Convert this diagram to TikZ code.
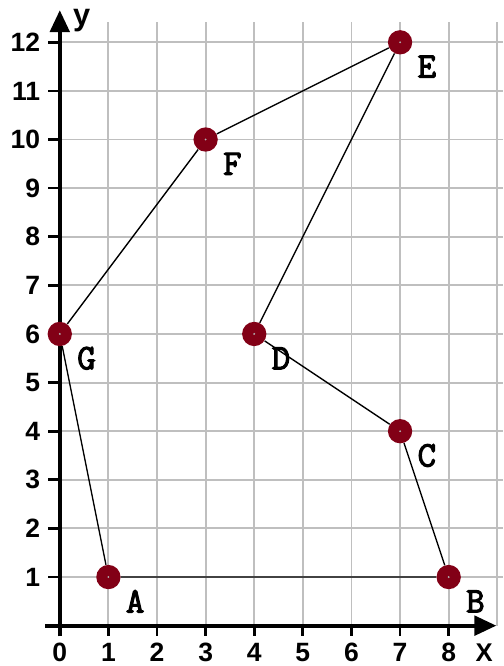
\documentclass[tikz,border=0pt]{standalone}
\usepackage{fontspec}
\setsansfont{Liberation Sans}
\newfontfamily\ptfont[FakeBold=3]{Latin Modern Mono}
\usetikzlibrary{arrows.meta,positioning,calc}
\definecolor{ptred}{RGB}{130,0,22}
\tikzset{
  gridln/.style={gray!50, line width=1.1pt},
  axisln/.style={line width=2.2pt, -{Triangle[length=4.5mm,width=4mm]}},
  tickln/.style={line width=1.6pt},
  side/.style={black, line width=0.8pt},
  pt/.style={circle, fill=ptred, minimum size=5mm, inner sep=0pt,
    path picture={\fill[gray!60] (path picture bounding box.center) circle (0.6pt);}},
  ptlbl/.style={font=\ptfont\fontsize{21}{21}\selectfont, inner sep=0pt},
  num/.style={font=\sffamily\bfseries\fontsize{15.5}{15.5}\selectfont, inner sep=0pt},
}
\begin{document}
\begin{tikzpicture}
\useasboundingbox (-1.23,-0.83) rectangle (9.12,12.87);
% grid
\foreach \y in {1,...,12} \draw[gridln] (0,\y) -- (9.12,\y);
\foreach \x in {1,...,9} \draw[gridln] (\x,0) -- (\x,12.42);
% ticks and numbers
\foreach \x in {0,...,8} {
  \draw[tickln] (\x,0) -- (\x,-0.22);
  \node[num] (x\x) at (\x,-0.55) {\x};
}
\foreach \y in {1,...,12} {
  \draw[tickln] (0,\y) -- (-0.25,\y);
  \node[num, anchor=east] (y\y) at (-0.4,\y) {\y};
}
% axes
\draw[axisln] (-0.3,0) -- (8.98,0);
\draw[axisln] (0,-0.22) -- (0,12.66);
\node[num, font=\sffamily\bfseries\fontsize{15}{15}\selectfont] (xl) at (8.73,-0.55) {X};
\node[num, font=\sffamily\bfseries\fontsize{18}{18}\selectfont] (yl) at (0.45,12.44) {y};
% points
\foreach \n/\px/\py in {A/1/1, B/8/1, C/7/4, D/4/6, E/7/12, F/3/10, G/0/6} {
  \node[pt] (\n) at (\px,\py) {};
  \node[ptlbl] (\n lbl) at ($(\n)+(0.55,-0.5)$) {\n};
}
\draw[side] (A) -- (B) -- (C) -- (D) -- (E) -- (F) -- (G) -- (A);
\end{tikzpicture}
\end{document}
